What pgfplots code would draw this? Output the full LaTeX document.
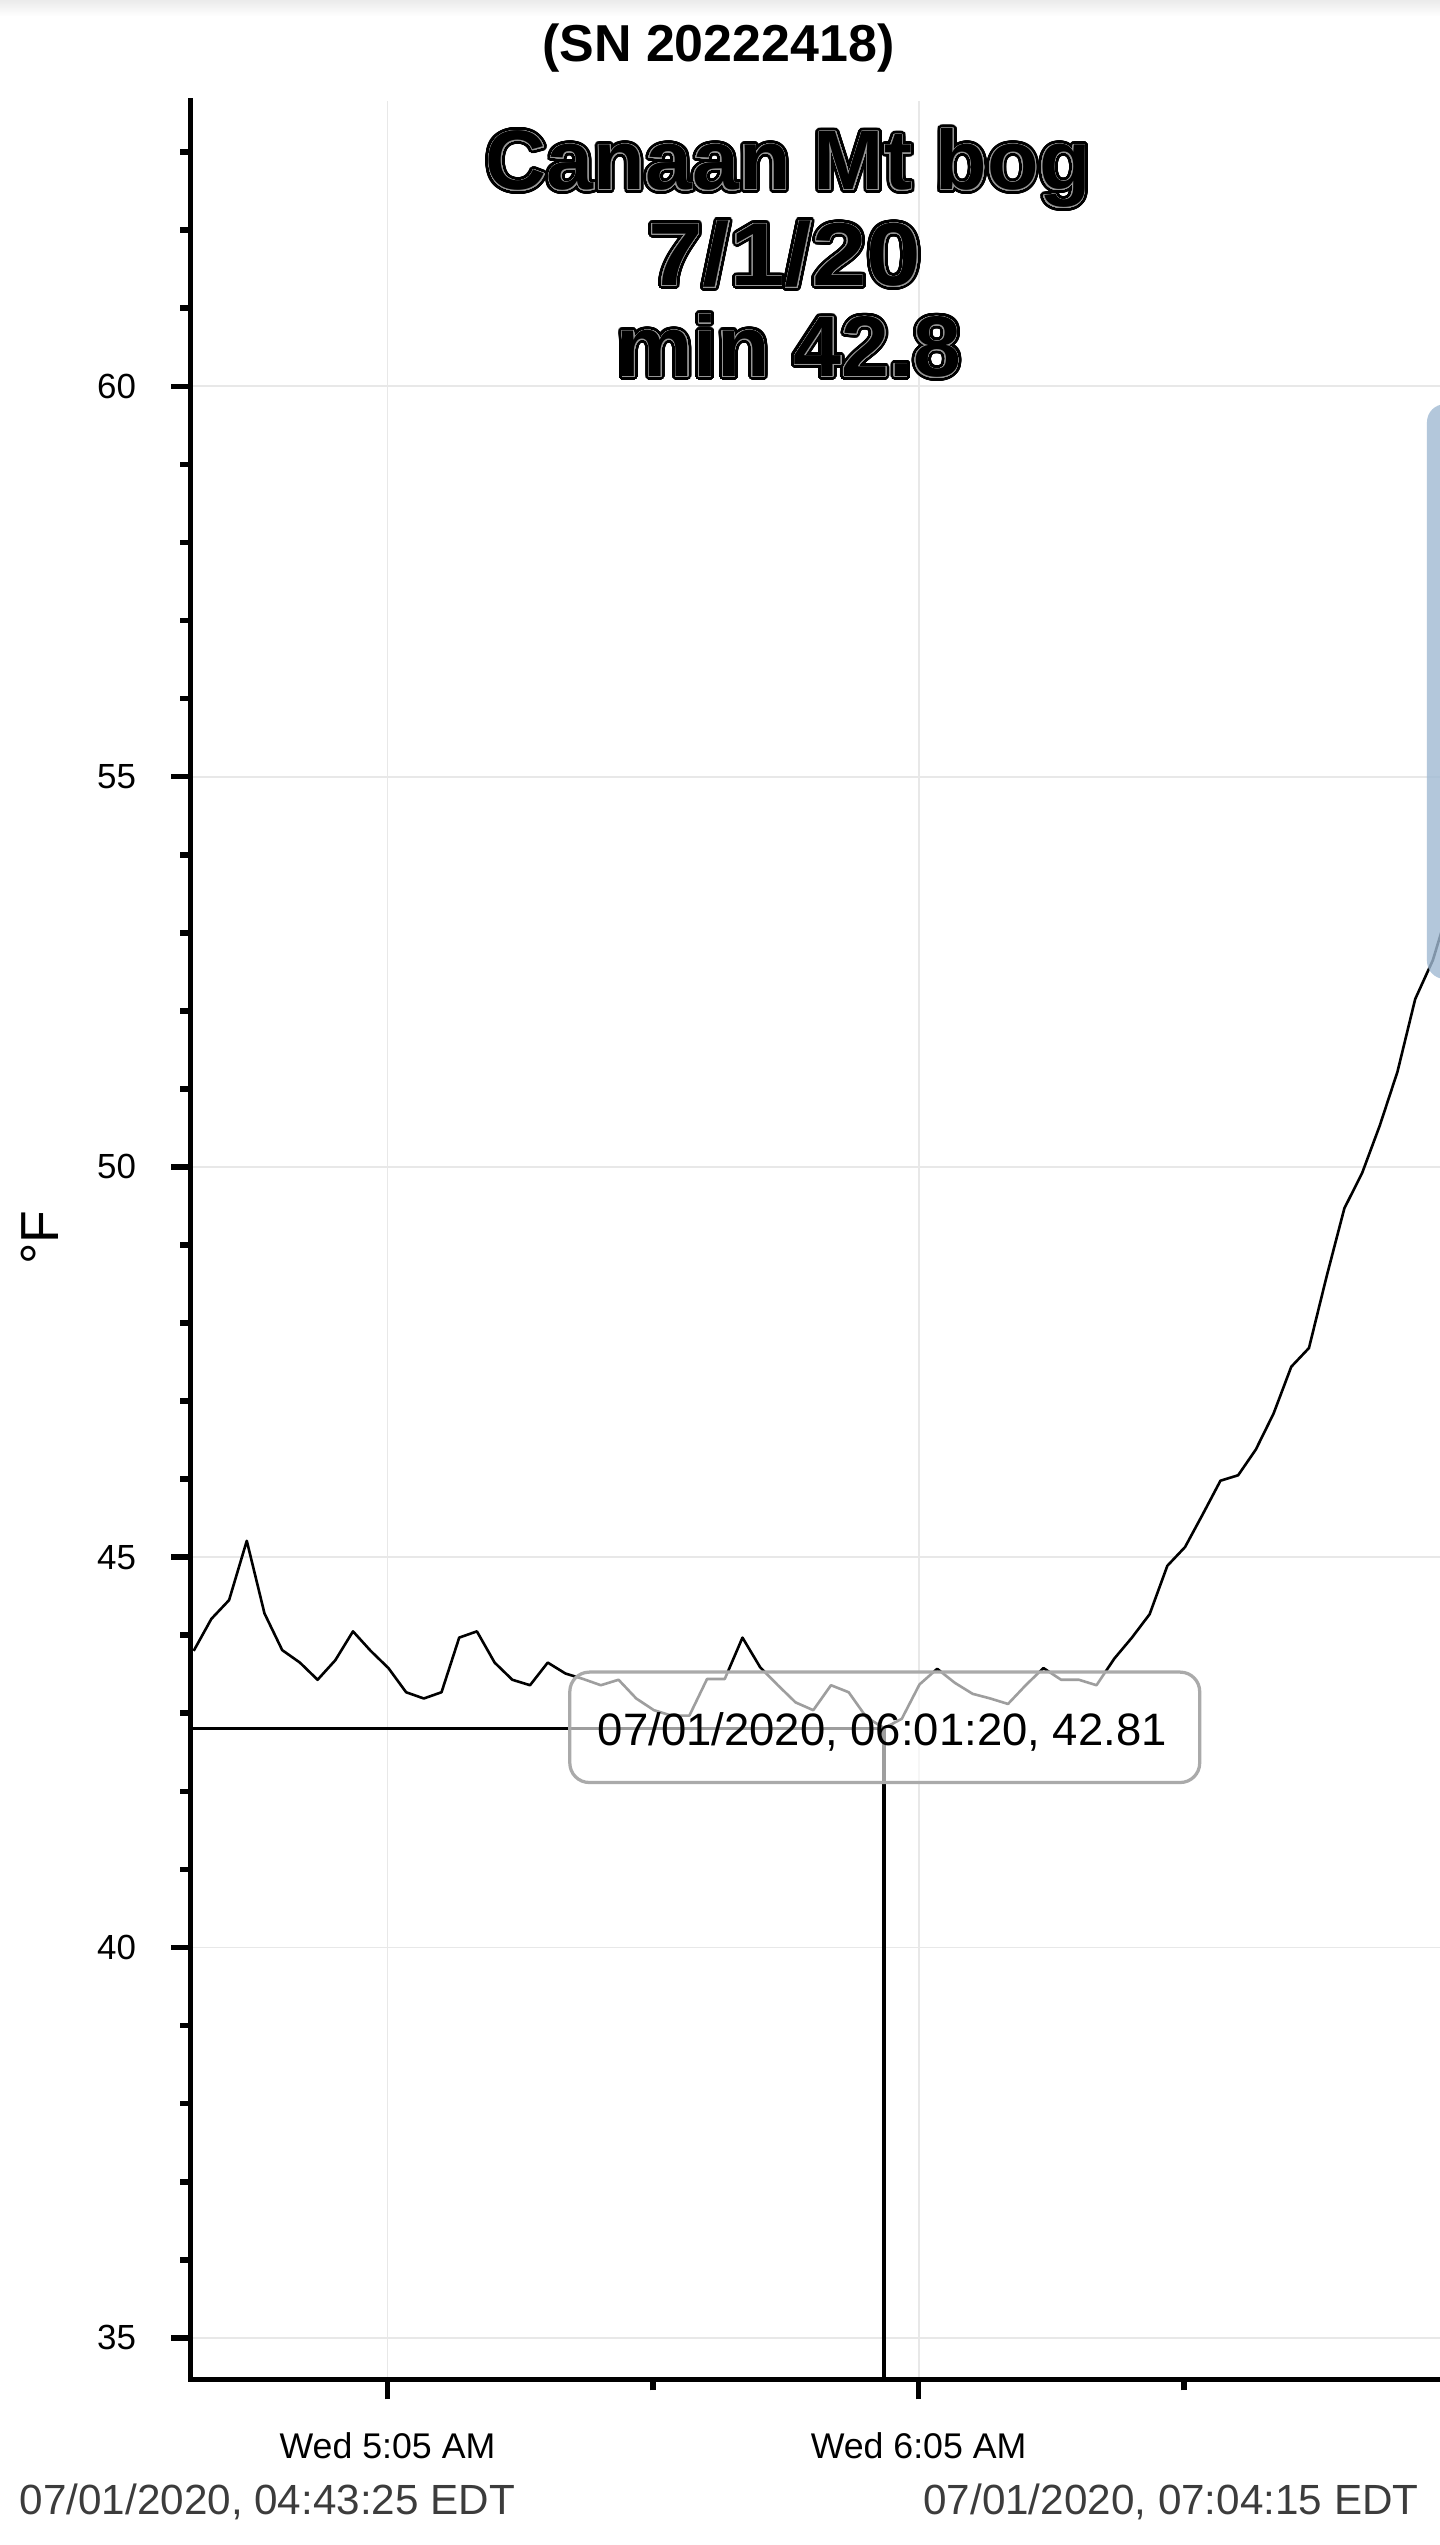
\documentclass[border=0pt]{standalone}
\usepackage{fontspec}
\setmainfont{Liberation Sans}
\usepackage{graphicx}
\usepackage{pgfplots}
\pgfplotsset{compat=1.18}
\usepackage{pgfplotstable}
\usepackage{contour}
\contournumber{40}
\definecolor{gridgray}{RGB}{232,232,232}
\definecolor{tipborder}{RGB}{170,170,170}
\definecolor{bluebox}{RGB}{160,186,211}
\definecolor{datelabel}{RGB}{60,60,60}
\definecolor{innerline}{RGB}{150,150,150}

\pgfplotstableread{
t v
43.1 43.80
45.1 44.21
47.1 44.45
49.1 45.21
51.1 44.28
53.1 43.81
55.1 43.65
57.1 43.43
59.1 43.68
61.1 44.05
63.1 43.80
65.1 43.58
67.1 43.27
69.1 43.19
71.1 43.27
73.1 43.97
75.1 44.05
77.1 43.65
79.1 43.43
81.1 43.36
83.1 43.65
85.1 43.51
87.1 43.44
89.1 43.36
91.1 43.43
93.1 43.19
95.1 43.04
97.1 42.97
99.1 42.97
101.1 43.44
103.1 43.44
105.1 43.97
107.1 43.59
109.1 43.36
111.1 43.14
113.1 43.04
115.1 43.36
117.1 43.27
119.1 42.95
121.1 42.81
123.1 42.93
125.1 43.37
127.1 43.57
129.1 43.39
131.1 43.25
133.1 43.19
135.1 43.12
137.1 43.36
139.1 43.58
141.1 43.43
143.1 43.43
145.1 43.36
147.1 43.70
149.1 43.97
151.1 44.27
153.1 44.89
155.1 45.13
157.1 45.55
159.1 45.98
161.1 46.05
163.1 46.38
165.1 46.84
167.1 47.44
169.1 47.68
171.1 48.60
173.1 49.47
175.1 49.92
177.1 50.53
179.1 51.22
181.1 52.15
183.1 52.65
185.1 53.40
}\tempdata

\newcommand\titleline[4]{% x, y(baseline), size, text
  \node[anchor=base, inner sep=0pt] at (#1pt,-#2pt)
    {\fontsize{#3}{#3}\selectfont\bfseries\contourlength{2.2pt}\contour{black}{#4}};
  \node[anchor=base, inner sep=0pt] at (#1pt,-#2pt)
    {\fontsize{#3}{#3}\selectfont\bfseries\contourlength{0.35pt}\contour{innerline}{#4}};
}

\begin{document}
\begin{tikzpicture}
\useasboundingbox (0,0) rectangle (887pt,-1567.7pt);
\fill[white] (0,0) rectangle (887pt,-1567.7pt);
\shade[top color=black!8, bottom color=white] (0,0) rectangle (887pt,-10pt);

\begin{axis}[
  at={(117.5pt,-1466pt)}, anchor=south west,
  scale only axis, width=769.5pt, height=1404pt,
  xmin=42.77, xmax=183.9, ymin=34.46, ymax=63.66,
  axis lines=left,
  axis line style={-, line width=3pt, black, line cap=rect},
  xtick={65,125}, xticklabels={Wed 5:05 AM, Wed 6:05 AM},
  minor xtick={95,155},
  ytick={35,40,45,50,55,60}, yticklabels={35,40,45,50,55,60},
  minor ytick={35,36,...,63},
  tick align=outside,
  major tick length=12pt, minor tick length=6.5pt,
  tick style={line width=3.5pt, black},
  grid=major,
  major grid style={line width=1.2pt, draw=gridgray},
  xticklabel style={font=\fontsize{22}{22}\selectfont, anchor=north, inner sep=0pt, yshift=-20pt},
  yticklabel style={font=\fontsize{21.5}{21.5}\selectfont, anchor=east, inner sep=0pt, xshift=-21.5pt},
  /pgf/number format/assume math mode=true,
  clip=true,
]
\addplot[black, line width=1.6pt, line join=round] table[x=t, y=v] {\tempdata};
\addplot[black, line width=2pt] coordinates {(42.77,42.81) (121.1,42.81) (121.1,34.46)};
\end{axis}

% y axis label
\node[rotate=90, inner sep=0pt, font=\fontsize{33}{33}\selectfont] at (24.8pt,-762.5pt) {°F};

% tooltip
\filldraw[draw=tipborder, line width=2pt, fill=white, fill opacity=0.62, rounded corners=12pt]
  (351pt,-1030pt) rectangle (739pt,-1098pt);
\node[anchor=base, inner sep=0pt, font=\fontsize{28}{28}\selectfont] at (543.5pt,-1075pt) {07/01/2020, 06:01:20, 42.81};

% blue tooltip at right edge
\fill[bluebox, fill opacity=0.8, rounded corners=11pt] (879pt,-249pt) rectangle (920pt,-603pt);

% header
\node[anchor=base, inner sep=0pt, font=\fontsize{32}{32}\selectfont\bfseries] at (442.5pt,-38pt) {(SN 20222418)};

% title
\titleline{485.5}{117}{52}{Canaan Mt bog}
\titleline{483.5}{176}{55}{\scalebox{1.1}[1]{7/1/20}}
\titleline{486}{232}{53}{min 42.8}

% bottom date range labels
\node[anchor=base west, inner sep=0pt, text=datelabel, font=\fontsize{26}{26}\selectfont] at (12pt,-1549pt) {07/01/2020, 04:43:25 EDT};
\node[anchor=base east, inner sep=0pt, text=datelabel, font=\fontsize{26}{26}\selectfont] at (874pt,-1549pt) {07/01/2020, 07:04:15 EDT};
\end{tikzpicture}
\end{document}
